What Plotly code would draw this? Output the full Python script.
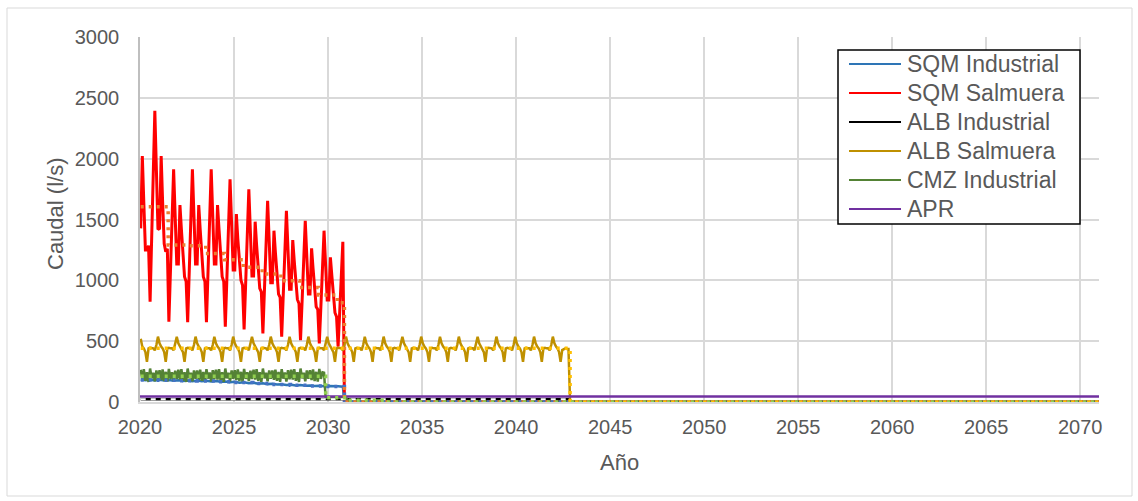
import pandas as pd
import plotly.graph_objects as go

# ---------------------------------------------------------------------------
# Monthly flow series (l/s), one value per month starting January 2020
# ---------------------------------------------------------------------------
sqm_salmuera = [
    1427, 2021, 1640, 1250, 1250, 1285, 824, 1350, 1870, 2394, 1900, 1419,  # 2020
    1427, 2021, 1650, 1300, 1235, 1260, 660, 1080, 1500, 1912, 1520, 1134,  # 2021
    1134, 1619, 1420, 1220, 1030, 990, 655, 1080, 1500, 1912, 1520, 1134,   # 2022
    1134, 1619, 1420, 1220, 1030, 990, 655, 1080, 1500, 1912, 1520, 1134,   # 2023
    1134, 1619, 1420, 1220, 1030, 990, 619, 1020, 1430, 1830, 1460, 1085,   # 2024
    1085, 1545, 1340, 1160, 1000, 960, 597, 980, 1360, 1748, 1390, 1035,    # 2025
    1035, 1482, 1290, 1110, 934, 905, 564, 930, 1290, 1654, 1320, 980,      # 2026
    980, 1408, 1230, 1060, 887, 860, 537, 880, 1230, 1572, 1250, 926,       # 2027
    926, 1331, 1160, 1000, 843, 810, 509, 830, 1160, 1490, 1190, 887,       # 2028
    887, 1263, 1100, 940, 783, 760, 482, 790, 1100, 1408, 1120, 838,        # 2029
    838, 1189, 1040, 880, 734, 700, 455, 740, 1030, 1317,                   # 2030 (Jan-Oct)
]
sqm_salmuera_tail_dates = ["2030-11-15", "2071-01-01"]
sqm_salmuera_tail = [0, 0]

alb_salmuera = [
    520, 455, 441, 410, 331, 441, 445, 441, 441, 425, 470, 537,  # 2020
    482, 455, 441, 410, 331, 441, 445, 441, 441, 425, 470, 535,  # 2021
    482, 455, 441, 410, 331, 441, 445, 441, 441, 425, 470, 537,  # 2022
    482, 455, 441, 410, 331, 441, 445, 441, 441, 425, 470, 536,  # 2023
    482, 455, 441, 410, 331, 441, 445, 441, 441, 425, 470, 537,  # 2024
    482, 455, 441, 410, 331, 441, 445, 441, 441, 425, 470, 535,  # 2025
    482, 455, 441, 410, 331, 441, 445, 441, 441, 425, 470, 537,  # 2026
    482, 455, 441, 410, 331, 441, 445, 441, 441, 425, 470, 536,  # 2027
    482, 455, 441, 410, 331, 441, 445, 441, 441, 425, 470, 537,  # 2028
    482, 455, 441, 410, 331, 441, 445, 441, 441, 425, 470, 535,  # 2029
    482, 455, 441, 410, 331, 441, 445, 441, 441, 425, 470, 537,  # 2030
    482, 455, 441, 410, 331, 441, 445, 441, 441, 425, 470, 536,  # 2031
    482, 455, 441, 410, 331, 441, 445, 441, 441, 425, 470, 537,  # 2032
    482, 455, 441, 410, 331, 441, 445, 441, 441, 425, 470, 535,  # 2033
    482, 455, 441, 410, 331, 441, 445, 441, 441, 425, 470, 537,  # 2034
    482, 455, 441, 410, 331, 441, 445, 441, 441, 425, 470, 536,  # 2035
    482, 455, 441, 410, 331, 441, 445, 441, 441, 425, 470, 537,  # 2036
    482, 455, 441, 410, 331, 441, 445, 441, 441, 425, 470, 535,  # 2037
    482, 455, 441, 410, 331, 441, 445, 441, 441, 425, 470, 537,  # 2038
    482, 455, 441, 410, 331, 441, 445, 441, 441, 425, 470, 536,  # 2039
    482, 455, 441, 410, 331, 441, 445, 441, 441, 425, 470, 537,  # 2040
    482, 455, 441, 410, 331, 441, 445, 441, 441, 425, 470, 537,  # 2041
    482, 455, 441, 410, 331, 427, 436, 441, 436, 436,            # 2042 (Jan-Oct)
]
alb_salmuera_tail_dates = ["2042-11-15", "2071-01-01"]
alb_salmuera_tail = [0, 0]

cmz_industrial = [
    265, 185, 270, 175, 245, 165, 275, 195, 240, 170, 260, 190,  # 2020
    262, 180, 268, 172, 248, 168, 272, 190, 244, 172, 258, 188,  # 2021
    265, 185, 270, 175, 245, 165, 275, 195, 240, 170, 260, 190,  # 2022
    260, 182, 266, 174, 246, 166, 270, 192, 242, 168, 262, 186,  # 2023
    265, 185, 270, 175, 245, 165, 275, 195, 240, 170, 260, 190,  # 2024
    262, 180, 268, 172, 248, 168, 272, 190, 244, 172, 258, 188,  # 2025
    265, 185, 270, 175, 245, 165, 275, 195, 240, 170, 260, 190,  # 2026
    260, 182, 266, 174, 246, 166, 270, 192, 242, 168, 262, 186,  # 2027
    265, 185, 270, 175, 245, 165, 275, 195, 240, 170, 260, 190,  # 2028
    262, 180, 268, 172, 248, 168, 272, 190, 244, 240,            # 2029 (Jan-Oct)
]
cmz_tail_dates = ["2029-11-15", "2030-12-15", "2031-01-15", "2032-12-15", "2033-01-15", "2071-01-01"]
cmz_tail = [35, 35, 15, 15, 0, 0]

# Quarterly values (Jan, Apr, Jul, Oct)
sqm_industrial = [
    185, 178, 183, 177,  # 2020
    182, 176, 180, 174,  # 2021
    179, 173, 177, 171,  # 2022
    177, 171, 175, 169,  # 2023
    173, 166, 169, 162,  # 2024
    166, 159, 162, 155,  # 2025
    158, 151, 154, 147,  # 2026
    149, 143, 146, 140,  # 2027
    141, 136, 139, 134,  # 2028
    136, 131, 134, 129,  # 2029
    131, 127, 129, 126,  # 2030
]
sqm_industrial_tail_dates = ["2030-11-15", "2071-01-01"]
sqm_industrial_tail = [0, 0]

# Nearly flat series
alb_industrial_dates = ["2020-01-15", "2042-10-15", "2042-11-15", "2071-01-01"]
alb_industrial = [22, 22, 0, 0]
apr_dates = ["2020-01-01", "2071-01-01"]
apr = [45, 45]

# Annual averages (step lines)
sqm_salmuera_avg_dates = ["2020-01-15", "2021-07-01", "2022-07-01", "2023-07-01", "2024-07-01",
                          "2025-07-01", "2026-07-01", "2027-07-01", "2028-07-01", "2029-07-01",
                          "2030-07-01", "2030-11-15", "2071-01-01"]
sqm_salmuera_avg = [1605, 1290, 1285, 1220, 1170, 1108, 1052, 997, 942, 879, 816, 0, 0]

sqm_industrial_avg_dates = ["2020-01-15", "2021-01-01", "2022-01-01", "2023-01-01", "2024-01-01",
                            "2025-01-01", "2026-01-01", "2027-01-01", "2028-01-01", "2029-01-01",
                            "2030-01-01", "2030-11-15", "2071-01-01"]
sqm_industrial_avg = [180, 178, 175, 173, 167, 160, 152, 144, 137, 132, 128, 0, 0]

alb_salmuera_avg_dates = ["2020-01-15", "2042-11-15", "2071-01-01"]
alb_salmuera_avg = [441, 0, 0]

cmz_avg_dates = ["2020-01-15", "2029-11-15", "2031-01-15", "2033-01-15", "2071-01-01"]
cmz_avg = [212, 35, 15, 0, 0]

series_names = ["SQM Industrial", "SQM Salmuera", "ALB Industrial",
                "ALB Salmuera", "CMZ Industrial", "APR"]
series_colors = ["#2E75B6", "#FF0000", "#000000", "#BF9000", "#548235", "#7030A0"]

FONT = "Liberation Sans, Arial, sans-serif"
TEXT = "#595959"
GRID = "#D9D9D9"


def monthly(n, step=1):
    return list(pd.date_range("2020-01-15", periods=n, freq=pd.DateOffset(months=step)))


def with_tail(x, y, tail_x, tail_y):
    return x + [pd.Timestamp(d) for d in tail_x], y + tail_y


fig = go.Figure()

x_sqm_ind, y_sqm_ind = with_tail(monthly(len(sqm_industrial), 3), sqm_industrial,
                                 sqm_industrial_tail_dates, sqm_industrial_tail)
x_sqm_sal, y_sqm_sal = with_tail(monthly(len(sqm_salmuera)), sqm_salmuera,
                                 sqm_salmuera_tail_dates, sqm_salmuera_tail)
x_alb_sal, y_alb_sal = with_tail(monthly(len(alb_salmuera)), alb_salmuera,
                                 alb_salmuera_tail_dates, alb_salmuera_tail)
x_cmz, y_cmz = with_tail(monthly(len(cmz_industrial)), cmz_industrial, cmz_tail_dates, cmz_tail)

main = [
    (x_sqm_ind, y_sqm_ind, 2.5),
    (x_sqm_sal, y_sqm_sal, 3),
    (pd.to_datetime(alb_industrial_dates), alb_industrial, 2.5),
    (x_alb_sal, y_alb_sal, 2.5),
    (x_cmz, y_cmz, 2.5),
    (pd.to_datetime(apr_dates), apr, 2.5),
]
for (x, y, w), name, color in zip(main, series_names, series_colors):
    fig.add_trace(go.Scatter(x=x, y=y, name=name, mode="lines",
                             line=dict(color=color, width=w), showlegend=False))

# white dashes over the ALB Industrial line
fig.add_trace(go.Scatter(x=pd.to_datetime(alb_industrial_dates[:2]), y=alb_industrial[:2],
                         mode="lines", line=dict(color="#FFFFFF", width=2, dash="5px,5px"),
                         showlegend=False, hoverinfo="skip"))

# annual averages, dotted
averages = [
    (sqm_industrial_avg_dates, sqm_industrial_avg, "#4472C4"),
    (sqm_salmuera_avg_dates, sqm_salmuera_avg, "#ED7D31"),
    (alb_salmuera_avg_dates, alb_salmuera_avg, "#FFC000"),
    (cmz_avg_dates, cmz_avg, "#92D050"),
]
for dates, vals, color in averages:
    fig.add_trace(go.Scatter(x=pd.to_datetime(dates), y=vals, mode="lines",
                             line=dict(color=color, width=3.5, dash="3px,5px", shape="hv"),
                             showlegend=False, hoverinfo="skip"))

# plot-area pixel geometry (for paper coordinates)
PL, PR, PT, PB = 140, 1099, 37, 402


def px(xpix):
    return (xpix - PL) / (PR - PL)


def py(ypix):
    return (PB - ypix) / (PB - PT)


shapes = [
    # chart frame
    dict(type="rect", xref="paper", yref="paper", x0=px(7), x1=px(1132), y0=py(496), y1=py(8),
         line=dict(color=GRID, width=1), fillcolor="rgba(0,0,0,0)", layer="below"),
    # legend box
    dict(type="rect", xref="paper", yref="paper", x0=px(838), x1=px(1080), y0=py(224), y1=py(50),
         line=dict(color="#000000", width=1.5), fillcolor="#FFFFFF", layer="above"),
]
annotations = []
row_y = [64, 93, 122, 151, 180, 209]
for name, color, ry in zip(series_names, series_colors, row_y):
    shapes.append(dict(type="line", xref="paper", yref="paper", x0=px(849), x1=px(901),
                       y0=py(ry), y1=py(ry), line=dict(color=color, width=2), layer="above"))
    annotations.append(dict(text=name, xref="paper", yref="paper", x=px(905), y=py(ry),
                            xanchor="left", yanchor="middle", showarrow=False,
                            font=dict(family=FONT, size=23, color=TEXT)))

annotations.append(dict(text="Caudal (l/s)", xref="paper", yref="paper", x=px(55), y=py(214),
                        textangle=-90, xanchor="center", yanchor="middle", showarrow=False,
                        font=dict(family=FONT, size=22, color=TEXT)))
annotations.append(dict(text="Año", xref="paper", yref="paper", x=px(619), y=py(462),
                        xanchor="center", yanchor="middle", showarrow=False,
                        font=dict(family=FONT, size=22, color=TEXT)))

fig.update_layout(
    width=1138, height=501,
    margin=dict(l=PL, r=1138 - PR, t=PT, b=501 - PB, pad=0),
    paper_bgcolor="#FFFFFF", plot_bgcolor="#FFFFFF",
    font=dict(family=FONT, color=TEXT),
    shapes=shapes, annotations=annotations,
    xaxis=dict(type="date", range=["2020-01-01", "2071-01-01"], tick0="2020-01-01", dtick="M60",
               tickformat="%Y", showgrid=True, gridcolor=GRID, gridwidth=1.5,
               showline=True, linecolor=GRID, linewidth=1.5, zeroline=False,
               ticks="outside", ticklen=6, tickcolor="rgba(0,0,0,0)",
               tickfont=dict(family=FONT, size=20, color=TEXT)),
    yaxis=dict(range=[0, 3000], dtick=500, showgrid=True, gridcolor=GRID, gridwidth=1.5,
               showline=True, linecolor="#BFBFBF", linewidth=1.5, zeroline=False,
               ticks="outside", ticklen=15, tickcolor="rgba(0,0,0,0)",
               tickfont=dict(family=FONT, size=20, color=TEXT)),
)

fig.write_html("out.html")
